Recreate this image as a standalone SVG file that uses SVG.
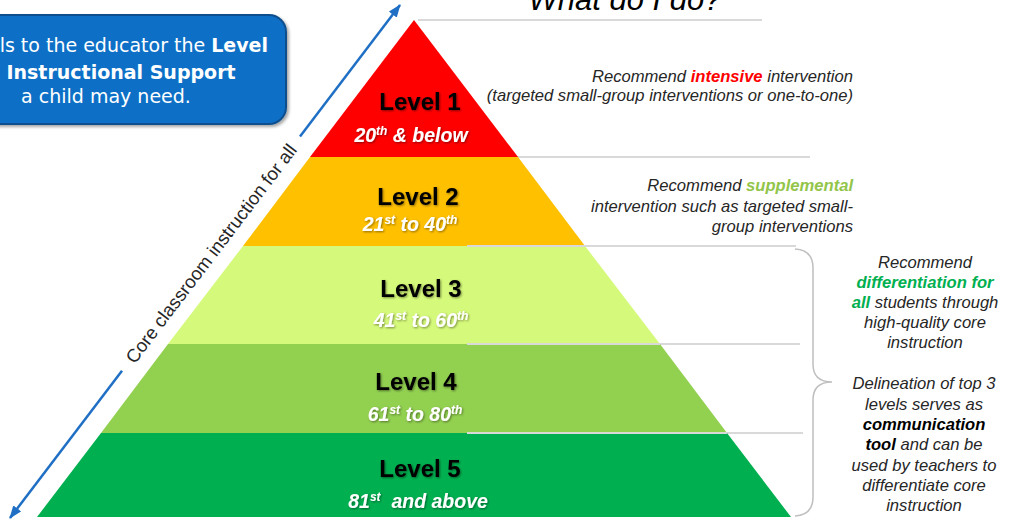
<svg xmlns="http://www.w3.org/2000/svg" width="1009" height="525" viewBox="0 0 1009 525">
<style>
.lvl{font-family:"Liberation Sans",Arial,sans-serif;font-weight:bold;font-size:24px;fill:#000;text-anchor:middle;filter:url(#sh)}
.pct{font-family:"Liberation Sans",Arial,sans-serif;font-weight:bold;font-style:italic;font-size:19.5px;fill:#fff;text-anchor:middle;filter:url(#sh)}
.sup{font-size:12px;baseline-shift:super}
.note{font-family:"Liberation Sans",Arial,sans-serif;font-style:italic;font-size:16.6px;fill:#262626}
.r{text-anchor:end}
.c{text-anchor:middle}
.b{font-weight:bold}
.red{fill:#FF0000}
.lg{fill:#92C54A}
.dg{fill:#00B050}
.blk{fill:#000}
.gl{stroke:#D9D9D9;stroke-width:2;fill:none}
.box{font-family:"DejaVu Sans",Verdana,sans-serif;font-size:19px;fill:#fff}
.arr{stroke:#1F6FC5;stroke-width:2.5;fill:none;marker-end:url(#ah)}
</style>
<defs>
<filter id="sh" x="-10%" y="-20%" width="130%" height="150%">
<feDropShadow dx="1" dy="1" stdDeviation="0.8" flood-color="#000" flood-opacity="0.45"/>
</filter>
<filter id="bsh" x="-10%" y="-10%" width="130%" height="140%">
<feDropShadow dx="2" dy="2" stdDeviation="1.5" flood-color="#000" flood-opacity="0.35"/>
</filter>
<marker id="ah" markerUnits="userSpaceOnUse" markerWidth="13" markerHeight="10" refX="12" refY="5" orient="auto">
<path d="M0,0 L13,5 L0,10 z" fill="#1F6FC5"/>
</marker>
</defs>
<rect width="1009" height="525" fill="#fff"/>

<g id="title">
<text x="625" y="10" font-family="Liberation Sans,Arial,sans-serif" font-style="italic" font-size="31" fill="#000" text-anchor="middle">What do I do?</text>
</g>

<g id="info-box">
<rect x="-20" y="15" width="306" height="109" rx="17" fill="#0B70C6" stroke="#0A4F8E" stroke-width="2" filter="url(#bsh)"/>
<text class="box" x="268" y="52" text-anchor="end">ls to the educator the <tspan font-weight="bold">Level</tspan></text>
<text class="box" x="121" y="79" text-anchor="middle" font-weight="bold">Instructional Support</text>
<text class="box" x="106" y="103" text-anchor="middle">a child may need.</text>
</g>

<g id="guides">
<line class="gl" x1="418" y1="20" x2="762" y2="20"/>
<line class="gl" x1="467" y1="157" x2="810" y2="157"/>
<line class="gl" x1="467" y1="246" x2="796" y2="246"/>
<line class="gl" x1="467" y1="344" x2="800" y2="344"/>
<line class="gl" x1="467" y1="433" x2="803" y2="433"/>
</g>

<g id="level1">
<polygon points="414,20 518,157 310,157" fill="#FF0000"/>
<text class="lvl" x="420" y="110">Level 1</text>
<text class="pct" x="411" y="142">20<tspan class="sup">th</tspan> &amp; below</text>
</g>
<g id="level2">
<polygon points="310,157 518,157 585,246 243,246" fill="#FFC000"/>
<text class="lvl" x="418" y="205">Level 2</text>
<text class="pct" x="410" y="231">21<tspan class="sup">st</tspan> to 40<tspan class="sup">th</tspan></text>
</g>
<g id="level3">
<polygon points="243,246 585,246 660,344 168,344" fill="#D5F97A"/>
<text class="lvl" x="421" y="297">Level 3</text>
<text class="pct" x="421" y="327">41<tspan class="sup">st</tspan> to 60<tspan class="sup">th</tspan></text>
</g>
<g id="level4">
<polygon points="168,344 660,344 727,433 101,433" fill="#92D050"/>
<text class="lvl" x="416" y="390">Level 4</text>
<text class="pct" x="415" y="421">61<tspan class="sup">st</tspan> to 80<tspan class="sup">th</tspan></text>
</g>
<g id="level5">
<polygon points="101,433 727,433 791,517 37,517" fill="#00B050"/>
<text class="lvl" x="420" y="477">Level 5</text>
<text class="pct" x="418" y="508" xml:space="preserve">81<tspan class="sup">st</tspan>  and above</text>
</g>
<g id="guides-over">
<line class="gl" x1="467" y1="246" x2="585" y2="246"/>
<line class="gl" x1="467" y1="344" x2="660" y2="344"/>
<line class="gl" x1="467" y1="433" x2="727" y2="433"/>
</g>

<g id="connectors">
<path class="arr" d="M122,370.7 L10,518"/>
<path class="arr" d="M300,136.6 L400,5"/>
<path d="M795,249 Q813,250 813,268 L813,364 Q813,382 832,382 Q813,382 813,400 L813,497 Q813,515 795,516" fill="none" stroke="#BFBFBF" stroke-width="1.5"/>
</g>

<g id="axis-label">
<text x="211" y="253.6" transform="rotate(-52.75 211 253.6)" font-family="Liberation Sans,Arial,sans-serif" font-size="18.5" fill="#262626" text-anchor="middle" dominant-baseline="central">Core classroom instruction for all</text>
</g>

<g id="note1">
<text class="note r" x="853" y="82">Recommend <tspan class="b red">intensive</tspan> intervention</text>
<text class="note r" x="853" y="101">(targeted small-group interventions or one-to-one)</text>
</g>
<g id="note2">
<text class="note r" x="853" y="191">Recommend <tspan class="b lg">supplemental</tspan></text>
<text class="note r" x="853" y="212">intervention such as targeted small-</text>
<text class="note r" x="853" y="232">group interventions</text>
</g>
<g id="note3">
<text class="note c" x="925" y="268">Recommend</text>
<text class="note c b dg" x="925" y="288">differentiation for</text>
<text class="note c" x="925" y="308"><tspan class="b dg">all</tspan> students through</text>
<text class="note c" x="925" y="328">high-quality core</text>
<text class="note c" x="925" y="348">instruction</text>
</g>
<g id="note4">
<text class="note c" x="924" y="389">Delineation of top 3</text>
<text class="note c" x="924" y="410">levels serves as</text>
<text class="note c b blk" x="924" y="430">communication</text>
<text class="note c" x="924" y="450"><tspan class="b blk">tool</tspan> and can be</text>
<text class="note c" x="924" y="471">used by teachers to</text>
<text class="note c" x="924" y="491">differentiate core</text>
<text class="note c" x="924" y="511">instruction</text>
</g>
</svg>
